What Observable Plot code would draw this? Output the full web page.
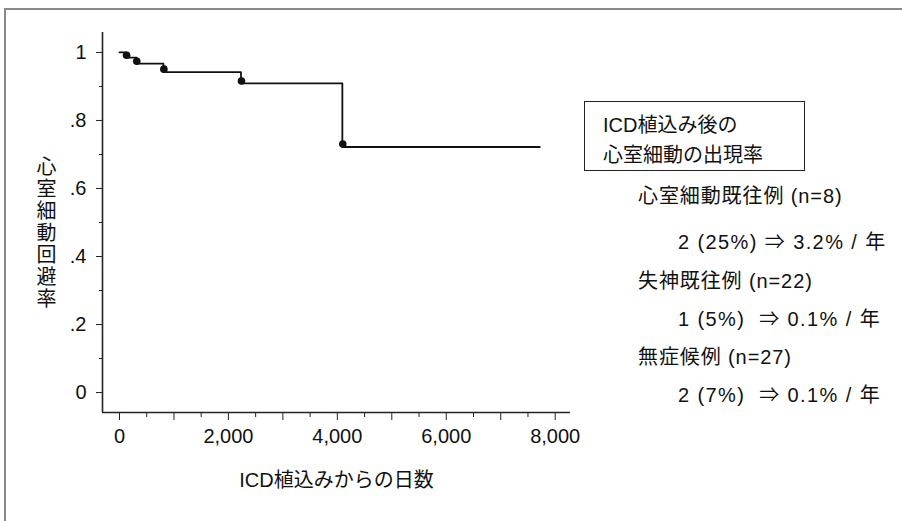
<!DOCTYPE html>
<html>
<head>
<meta charset="utf-8">
<script src="https://cdn.jsdelivr.net/npm/d3@7"></script>
<script src="https://cdn.jsdelivr.net/npm/@observablehq/plot@0.6"></script>
<style>
  body { margin: 0; background: #fff; }
  #wrap { position: relative; width: 902px; height: 521px; overflow: hidden; background: #fff;
          font-family: "Liberation Sans", "Noto Sans CJK JP", sans-serif; color: #111; }
  #border { position: absolute; left: 4px; top: 8px; width: 1200px; height: 1200px;
            border-left: 2px solid #8a8a8a; border-top: 2px solid #8a8a8a; }
  #chart { position: absolute; left: 0; top: 0; }
  .note { position: absolute; white-space: pre; line-height: 1; }
  #box { position: absolute; left: 584px; top: 101px; width: 221px; height: 70px;
         border: 1px solid #222; box-sizing: border-box; }
  #box div { position: absolute; left: 18px; font-size: 20px; white-space: pre; line-height: 1; }
</style>
</head>
<body>
<div id="wrap">
  <div id="border"></div>
  <div id="chart"></div>
</div>
<script>
// ---- data ----
const stepDays   = [0, 128, 317, 807, 2231, 4092, 7717];
const stepSurv   = [1, 0.985, 0.967, 0.942, 0.909, 0.722, 0.722];
const eventDays  = [130, 317, 815, 2240, 4100];
const eventSurv  = [0.992, 0.974, 0.951, 0.916, 0.731];
const xTicksMajor = [0, 1000, 2000, 3000, 4000, 5000, 6000, 7000, 8000];
const xTicksMinor = [500, 1500, 2500, 3500, 4500, 5500, 6500, 7500];
const yTicksMajor = [0, 0.2, 0.4, 0.6, 0.8, 1];
const yTicksMinor = [0.1, 0.3, 0.5, 0.7, 0.9];
const xDomain = [-312, 8281];
const yDomain = [-0.0587, 1.0587];
const xTitle = "ICD植込みからの日数";
const yTitle = "心室細動回避率";
const boxLines = ["ICD植込み後の", "心室細動の出現率"];
const groupNames = ["心室細動既往例 (n=8)", "失神既往例 (n=22)", "無症候例 (n=27)"];
const groupRates = ["2 (25%) ⇒ 3.2% / 年", "1 (5%)  ⇒ 0.1% / 年", "2 (7%)  ⇒ 0.1% / 年"];

const stepData = stepDays.map((d, i) => ({day: d, s: stepSurv[i]}));
const eventData = eventDays.map((d, i) => ({day: d, s: eventSurv[i]}));

const fmtX = d => (d % 2000 === 0 ? d3.format(",")(d) : "");
const fmtY = d => d === 0 ? "0" : d === 1 ? "1" : d3.format(".1f")(d).replace(/^0/, "");

const plot = Plot.plot({
  width: 902,
  height: 521,
  marginLeft: 102,
  marginRight: 332,
  marginTop: 32,
  marginBottom: 109,
  style: {fontFamily: '"Liberation Sans", "Noto Sans CJK JP", sans-serif', fontSize: "20px", color: "#111", background: "transparent"},
  x: {domain: xDomain},
  y: {domain: yDomain},
  marks: [
    Plot.ruleY([yDomain[0]], {stroke: "#222", strokeWidth: 1.6}),
    Plot.ruleX([xDomain[0]], {stroke: "#222", strokeWidth: 1.6}),
    Plot.axisX(xTicksMajor, {tickSize: 8, tickPadding: 8, tickFormat: fmtX, stroke: "#222", fontSize: 20, label: null}),
    Plot.axisX(xTicksMinor, {tickSize: 5, tickFormat: () => "", stroke: "#222", label: null}),
    Plot.axisY(yTicksMajor, {tickSize: 6, tickPadding: 10, tickFormat: fmtY, stroke: "#222", fontSize: 20, label: null}),
    Plot.axisY(yTicksMinor, {tickSize: 3, tickFormat: () => "", stroke: "#222", label: null}),
    Plot.line(stepData, {x: "day", y: "s", curve: "step-after", stroke: "#111", strokeWidth: 1.8}),
    Plot.dot(eventData, {x: "day", y: "s", r: 3.8, fill: "#111", stroke: "none"}),
    Plot.text([xTitle], {frameAnchor: "bottom", dy: 74, fontSize: 20, fill: "#111"}),
    Plot.text([yTitle.split("").join("\n")], {frameAnchor: "left", dx: -66, dy: 10, fontSize: 20, lineHeight: 1.1, fill: "#111"})
  ]
});
document.getElementById("chart").appendChild(plot);

// legend / annotation block to the right
const wrap = document.getElementById("wrap");
const box = document.createElement("div");
box.id = "box";
boxLines.forEach((t, i) => {
  const d = document.createElement("div");
  d.textContent = t;
  d.style.top = (13 + i * 30) + "px";
  box.appendChild(d);
});
wrap.appendChild(box);

const nameTops = [186, 271, 347];
const rateTops = [232, 309, 385];
groupNames.forEach((t, i) => {
  const d = document.createElement("div");
  d.className = "note";
  d.textContent = t;
  d.style.left = "638px";
  d.style.top = nameTops[i] + "px";
  d.style.fontSize = "20px";
  d.style.letterSpacing = "0.9px";
  wrap.appendChild(d);
  const r = document.createElement("div");
  r.className = "note";
  r.textContent = groupRates[i];
  r.style.left = "678px";
  r.style.top = rateTops[i] + "px";
  r.style.fontSize = "20px";
  r.style.letterSpacing = "1.4px";
  wrap.appendChild(r);
});
</script>
</body>
</html>
